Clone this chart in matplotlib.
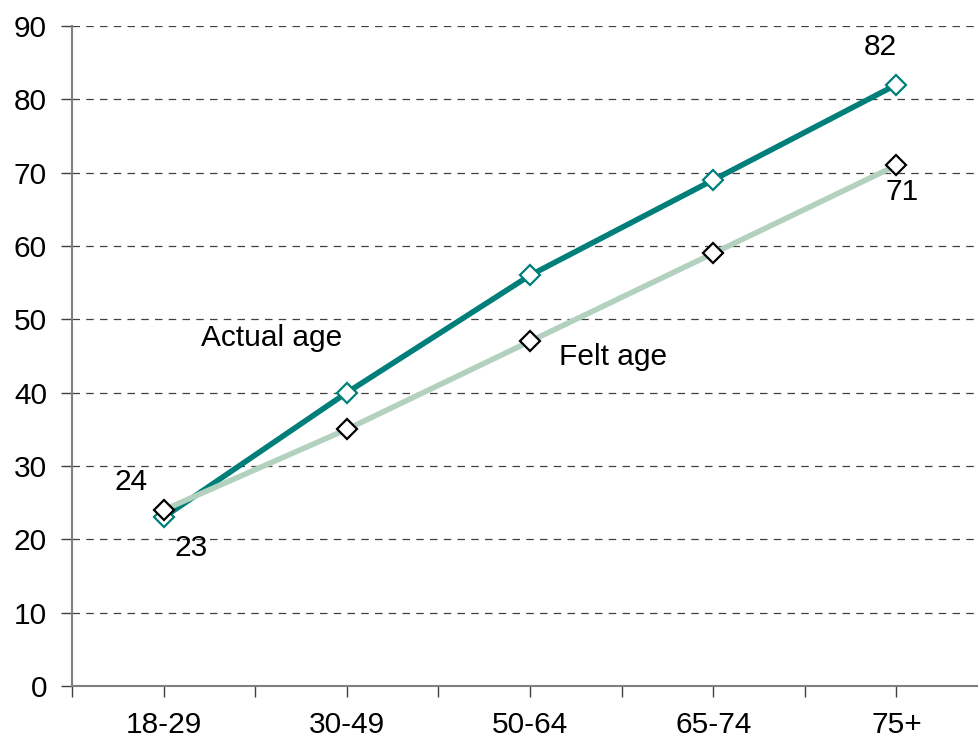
import matplotlib.pyplot as plt
import numpy as np

# data
age_groups = ['18-29', '30-49', '50-64', '65-74', '75+']
actual_age = [23, 40, 56, 69, 82]
felt_age = [24, 35, 47, 59, 71]

plt.rcParams['font.family'] = ['Liberation Sans', 'DejaVu Sans']

teal = '#007f7a'
light = '#b3d1bf'
gray = '#7f7f7f'
fs = 21.5

fig = plt.figure(figsize=(9.79, 7.41), dpi=100)
ax = fig.add_axes([72 / 979, 55 / 741, 916 / 979, 660 / 741])

x = np.arange(len(age_groups))

ax.plot(x, actual_age, color=teal, linewidth=4, marker='D', markersize=10,
        markerfacecolor='white', markeredgecolor=teal, markeredgewidth=1.6, zorder=3)
ax.plot(x, felt_age, color=light, linewidth=4, marker='D', markersize=10,
        markerfacecolor='white', markeredgecolor='black', markeredgewidth=1.6, zorder=4)

ax.set_xlim(-0.5, len(age_groups) - 0.5)
ax.set_ylim(0, 90)
ax.set_yticks(np.arange(0, 91, 10))
ax.set_xticks(x)
ax.set_xticklabels(age_groups)
ax.set_xticks(np.arange(-0.5, len(age_groups), 1), minor=True)

ax.grid(axis='y', linestyle=(0, (6, 5)), color='#404040', linewidth=0.9)
ax.set_axisbelow(True)

for s in ['top', 'right']:
    ax.spines[s].set_visible(False)
for s in ['left', 'bottom']:
    ax.spines[s].set_color(gray)
    ax.spines[s].set_linewidth(1.5)

ax.tick_params(axis='y', direction='out', length=8, width=1, color='#404040',
               labelsize=fs, pad=10)
ax.tick_params(axis='x', which='both', direction='out', length=8, width=1,
               color='#404040', labelsize=fs, pad=10)

# labels
ax.text(0.59, 47.5, 'Actual age', fontsize=fs, ha='center', va='center')
ax.text(2.16, 44.9, 'Felt age', fontsize=fs, ha='left', va='center')
ax.text(-0.18, 27.8, str(felt_age[0]), fontsize=fs, ha='center', va='center')
ax.text(0.15, 18.8, str(actual_age[0]), fontsize=fs, ha='center', va='center')
ax.text(3.91, 87.1, str(actual_age[-1]), fontsize=fs, ha='center', va='center')
ax.text(4.03, 67.4, str(felt_age[-1]), fontsize=fs, ha='center', va='center')

fig.savefig('out.png', dpi=100)
